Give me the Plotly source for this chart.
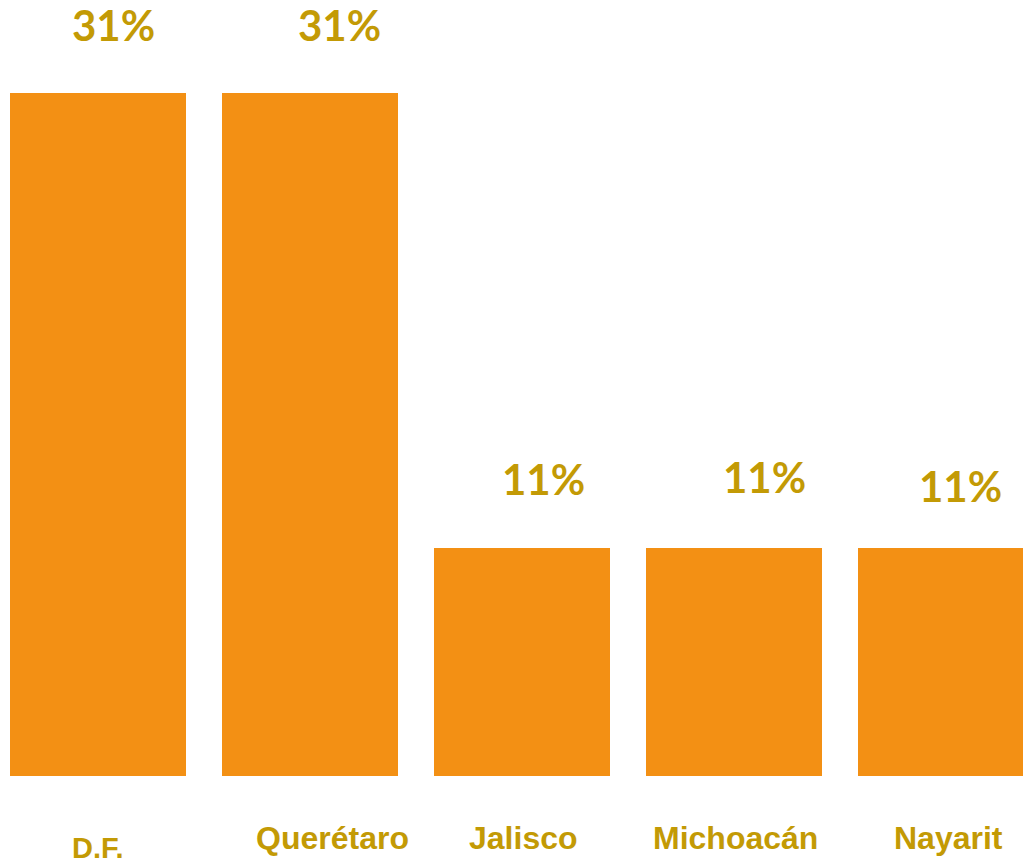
import plotly.graph_objects as go

# Share of responses by state
states = ["D.F.", "Querétaro", "Jalisco", "Michoacán", "Nayarit"]
shares = [31, 31, 11, 11, 11]
share_labels = ["31%", "31%", "11%", "11%", "11%"]

# Hand-placed label offsets (pixels) relative to each bar
value_dx = [15, 29, 21, 30, 14]
value_dy = [68, 68, 69, 71, 62]
name_dx = [0, 22, 1, 1, 2]
name_dy = [-72, -62, -62, -62, -62]
name_size = [29, 32, 32, 32, 32]

BAR = "#F39014"
TEXT = "#C39A05"

xpos = list(range(len(states)))

fig = go.Figure(
    go.Bar(
        x=xpos,
        y=shares,
        width=0.83,
        marker=dict(color=BAR, line=dict(width=0)),
        hoverinfo="skip",
    )
)

annotations = []
for i, (v, lab) in enumerate(zip(shares, share_labels)):
    annotations.append(dict(
        x=i, y=v, xref="x", yref="y", text=lab, showarrow=False,
        xanchor="center", yanchor="middle",
        xshift=value_dx[i], yshift=value_dy[i],
        font=dict(family="Lato, Arial", size=42, color=TEXT, weight="bold"),
    ))
    annotations.append(dict(
        x=i, y=0, xref="x", yref="paper", text=states[i], showarrow=False,
        xanchor="center", yanchor="middle",
        xshift=name_dx[i], yshift=name_dy[i],
        font=dict(family="Liberation Sans, Arial", size=name_size[i], color=TEXT, weight="bold"),
    ))

fig.update_layout(
    width=1023,
    height=863,
    margin=dict(l=0, r=0, t=0, b=87),
    paper_bgcolor="white",
    plot_bgcolor="white",
    showlegend=False,
    bargap=0,
    annotations=annotations,
    xaxis=dict(range=[-0.4623, 4.363], visible=False, fixedrange=True),
    yaxis=dict(range=[1.0, 35.08], visible=False, fixedrange=True),
)

fig.write_html("out.html")
